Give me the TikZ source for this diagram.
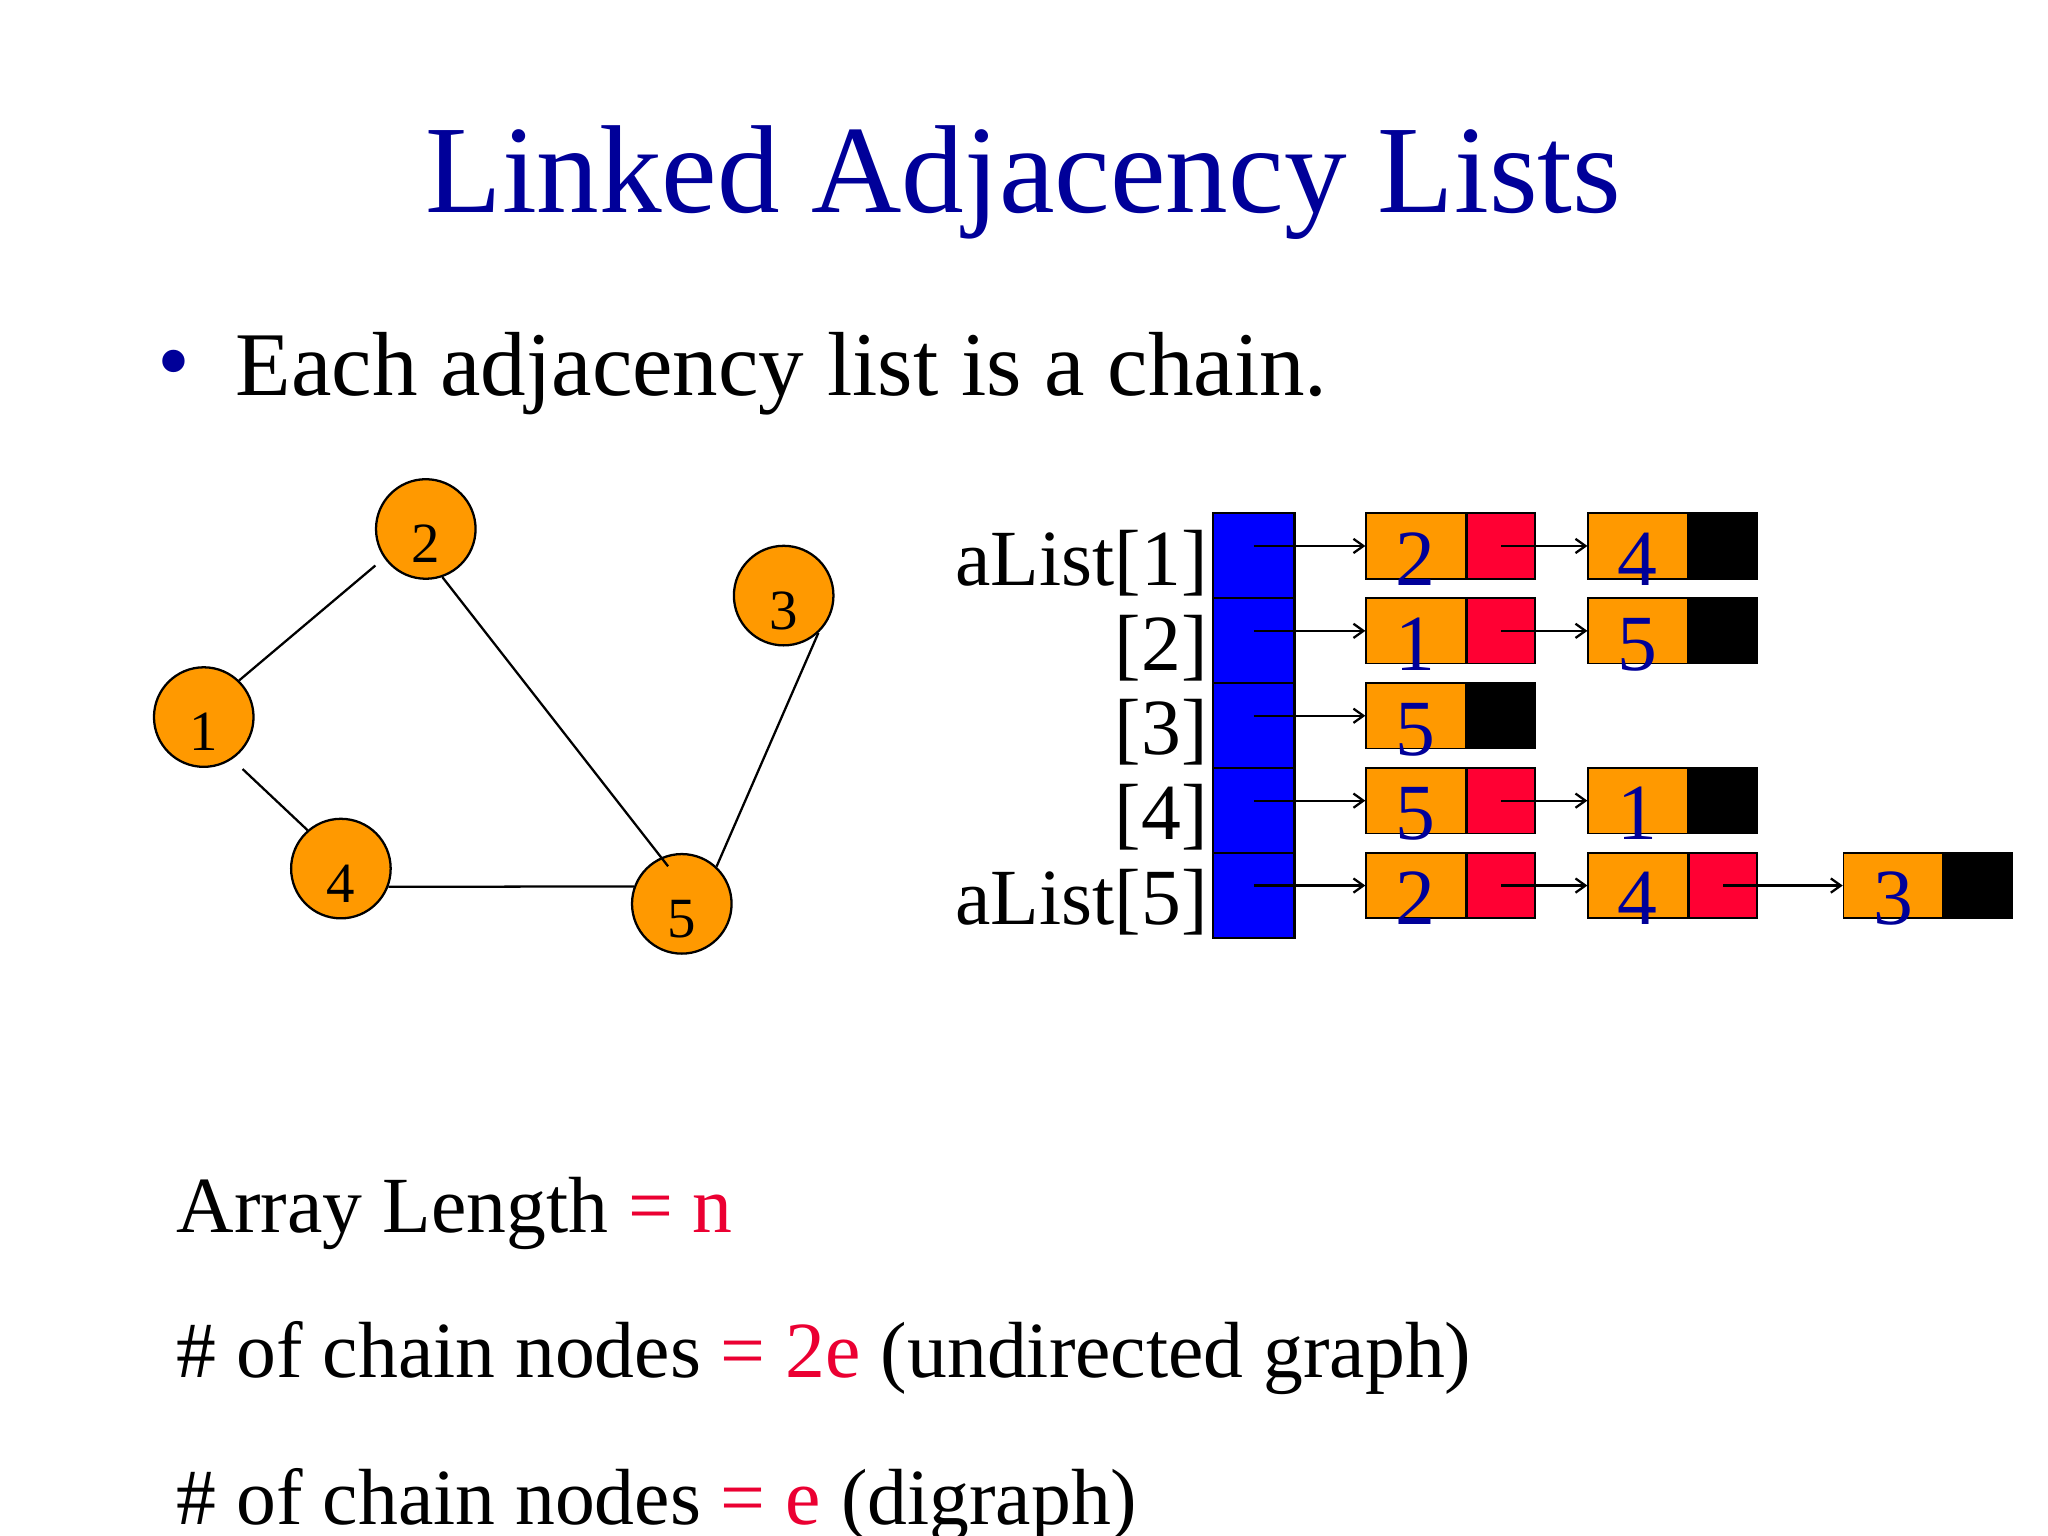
\documentclass[tikz,border=0pt]{standalone}
\usepackage{fontspec}
\setmainfont{Liberation Serif}
\usetikzlibrary{positioning,arrows.meta}
\definecolor{titleblue}{RGB}{0,0,153}
\definecolor{vorange}{RGB}{255,153,0}
\definecolor{linkred}{RGB}{255,0,51}
\definecolor{cellblue}{RGB}{0,0,255}
\definecolor{eqred}{RGB}{235,0,50}
% digits sit a little below the middle of their boxes
\newcommand{\vnum}[1]{\smash{\raisebox{-11.8pt}{#1}}}
\newcommand{\cnum}[1]{\smash{\raisebox{-13.8pt}{#1}}}

\begin{document}
\begin{tikzpicture}[x=0.45918pt,y=-0.45918pt,
  vertex/.style={circle,draw,line width=0.8pt,fill=vorange,minimum size=35pt,inner sep=0pt,font=\fontsize{20}{24}\selectfont},
  gline/.style={line width=0.8pt},
  slot/.style={draw,line width=0.8pt,fill=cellblue,minimum width=28.5pt,minimum height=29.85pt,inner sep=0pt},
  datum/.style={draw,line width=0.6pt,fill=vorange,minimum width=34.9pt,minimum height=23pt,inner sep=0pt,text=titleblue,font=\fontsize{28}{32}\selectfont},
  nextbox/.style={draw,line width=0.6pt,minimum width=23.9pt,minimum height=23pt,inner sep=0pt},
  ptr/.style={line width=0.8pt,-{Straight Barb[length=3.5pt,width=5pt]}},
  big/.style={font=\fontsize{28}{32}\selectfont,inner sep=0pt}]
\fill[white] (0,0) rectangle (1568,1176);
\useasboundingbox (0,0) rectangle (1568,1176);

% title and bullet
\node[anchor=base,text=titleblue,font=\fontsize{44}{52}\selectfont,inner sep=0pt] (title) at (783.5,163) {Linked Adjacency Lists};
\node[text=titleblue,font=\fontsize{33}{36}\selectfont,inner sep=0pt] (dot) at (133,284) {•};
\node[anchor=base west,font=\fontsize{32}{38}\selectfont,inner sep=0pt] (point) at (180,303) {Each adjacency list is a chain.};

% the graph
\node[vertex] (v1) at (156,549) {\vnum{1}};
\node[vertex] (v2) at (326,405) {\vnum{2}};
\node[vertex] (v3) at (600,456) {\vnum{3}};
\node[vertex] (v4) at (261,665) {\vnum{4}};
\node[vertex] (v5) at (522,692) {\vnum{5}};
\draw[gline,shorten >=4pt] (v1.46) -- (v2.215);
\draw[gline,shorten <=5pt] (v1.304) -- (v4.131);
\draw[gline,shorten >=-4pt] (v2.289) -- (v5.114);
\draw[gline] (v4.-21) -- (v5.160);
\draw[gline] (v3.-47) -- (v5.47);

% the array
\foreach \i in {1,...,5}
  \node[slot] (a\i) at (960,{425.5+65*(\i-1)}) {};
\node[big,anchor=base east] (l1) at (925,448) {aList[1]};
\foreach \i in {2,3,4}
  \node[big,anchor=base east] (l\i) at (925,{448+65*(\i-1)}) {[\i]};
\node[big,anchor=base east] (l5) at (925,708) {aList[5]};

% the chains
\foreach \r/\c/\x/\v/\f in {1/1/1084/2/linkred, 1/2/1254/4/black,
    2/1/1084/1/linkred, 2/2/1254/5/black, 3/1/1084/5/black,
    4/1/1084/5/linkred, 4/2/1254/1/black,
    5/1/1084/2/linkred, 5/2/1254/4/linkred, 5/3/1449.5/3/black} {
  \node[datum] (d\r\c) at (\x,{418+65*(\r-1)}) {\cnum{\v}};
  \node[nextbox,fill=\f,right=0pt of d\r\c] (p\r\c) {};
}
\foreach \r in {1,...,5}
  \draw[ptr] (a\r |- d\r1) -- (d\r1);
\foreach \r/\c/\n in {1/1/2, 2/1/2, 4/1/2, 5/1/2, 5/2/3}
  \draw[ptr] (p\r\c.center) -- (d\r\n);

% counts
\node[big,anchor=base west] (len) at (135,944) {Array Length \textcolor{eqred}{= n}};
\node[big,anchor=base west] (undir) at (135,1055) {\# of chain nodes \textcolor{eqred}{= 2e} (undirected graph)};
\node[big,anchor=base west] (dir) at (135,1167) {\# of chain nodes \textcolor{eqred}{= e} (digraph)};
\end{tikzpicture}
\end{document}
